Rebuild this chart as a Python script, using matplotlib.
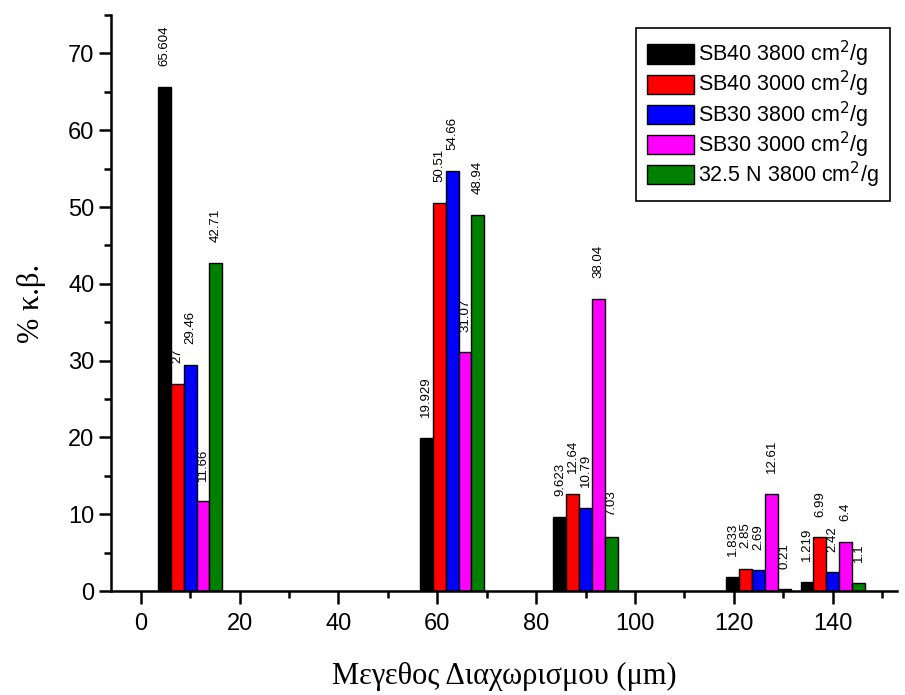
import matplotlib.pyplot as plt
import numpy as np

# Data
sizes = [10, 63, 90, 125, 140]  # separation size (um), group positions
series_names = ['SB40 3800 cm$^2$/g', 'SB40 3000 cm$^2$/g', 'SB30 3800 cm$^2$/g',
                'SB30 3000 cm$^2$/g', '32.5 N 3800 cm$^2$/g']
sb40_3800 = [65.604, 19.929, 9.623, 1.833, 1.219]
sb40_3000 = [27, 50.51, 12.64, 2.85, 6.99]
sb30_3800 = [29.46, 54.66, 10.79, 2.69, 2.42]
sb30_3000 = [11.66, 31.07, 38.04, 12.61, 6.4]
n325_3800 = [42.71, 48.94, 7.03, 0.21, 1.1]
colors = ['#000000', '#FF0000', '#0000FF', '#FF00FF', '#008000']

all_series = [sb40_3800, sb40_3000, sb30_3800, sb30_3000, n325_3800]
bar_w = 2.6

plt.rcParams['font.family'] = ['Liberation Sans', 'DejaVu Sans']

fig = plt.figure(figsize=(9.05, 6.95), dpi=100)
ax = fig.add_axes([0.1227, 0.1496, 0.8685, 0.8288])

x = np.array(sizes, dtype=float)
for i, (vals, name, c) in enumerate(zip(all_series, series_names, colors)):
    pos = x + (i - 2) * bar_w
    ax.bar(pos, vals, width=bar_w, color=c, edgecolor='black', linewidth=1,
           label=name, zorder=2)
    for p, v in zip(pos, vals):
        ax.annotate(f"{v:g}", (p, v), xytext=(0, 15), textcoords='offset points',
                    rotation=90, ha='center', va='bottom', fontsize=9.5)

ax.set_xlim(-6, 153)
ax.set_ylim(0, 75)
ax.set_xticks(range(0, 141, 20))
ax.set_xticks(range(10, 151, 20), minor=True)
ax.set_yticks(range(0, 71, 10))
ax.set_yticks(range(5, 76, 10), minor=True)

for s in ['top', 'right']:
    ax.spines[s].set_visible(False)
for s in ['left', 'bottom']:
    ax.spines[s].set_linewidth(1.8)

ax.tick_params(which='major', length=9, width=1.8, labelsize=17, pad=3)
ax.tick_params(which='minor', length=5, width=1.8)
ax.tick_params(axis='x', which='major', pad=7)

ax.set_xlabel('Μεγεθος Διαχωρισμου (μm)', fontsize=22,
              family=['Liberation Serif', 'DejaVu Serif'], labelpad=19)
ax.set_ylabel('% κ.β.', fontsize=22,
              family=['Liberation Serif', 'DejaVu Serif'], labelpad=16)

leg = ax.legend(loc='upper right', bbox_to_anchor=(0.991, 0.977), fontsize=15.5,
                fancybox=False, framealpha=1, edgecolor='black',
                handlelength=2.2, handleheight=1.0, labelspacing=0.0,
                handletextpad=0.2, borderpad=0.5, borderaxespad=0)
leg.get_frame().set_linewidth(1.2)

fig.savefig('out.png', dpi=100)
